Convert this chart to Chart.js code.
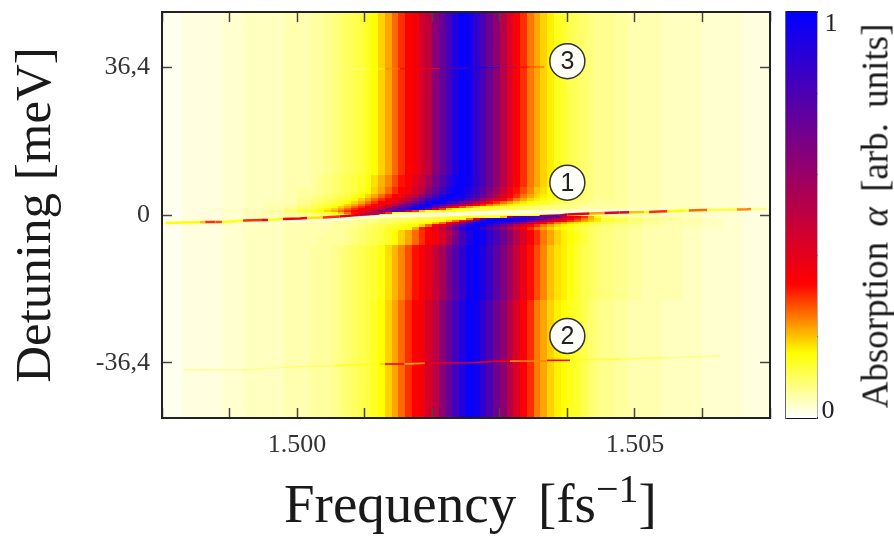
<!DOCTYPE html>
<html>
<head>
<meta charset="utf-8">
<script src="https://cdn.jsdelivr.net/npm/chart.js@4"></script>
<style>
  body { margin: 0; background: #fff; }
  #page { position: relative; width: 894px; height: 536px; overflow: hidden; }
  canvas { position: absolute; top: 0; }
  .title { position: absolute; font-family: "Liberation Serif", serif; color: #1a1a1a; white-space: nowrap; }
  #xTitle { left: 284px; top: 472px; font-size: 55px; word-spacing: 8px; }
  #xTitle sup { font-size: 40px; line-height: 0; vertical-align: 20px; }
  #barTitle { left: 875px; top: 216px; font-size: 37px; word-spacing: 6px; transform: translate(-50%, -50%) rotate(-90deg); }
</style>
</head>
<body>
<div id="page">
  <canvas id="map" width="894" height="536" style="left:0"></canvas>
  <canvas id="bar" width="124" height="536" style="left:770px"></canvas>
  <div class="title" id="xTitle">Frequency [fs<sup>&minus;1</sup>]</div>
  <div class="title" id="barTitle">Absorption <i>α</i> [arb. units]</div>
</div>
<script>
// Tick values
const xTickValues = [1.498, 1.499, 1.5, 1.501, 1.502, 1.503, 1.504, 1.505, 1.506, 1.507];
const xTickLabels = { '1.500': '1.500', '1.505': '1.505' };
const yTickValues = [36.4, 0, -36.4];
const yTickLabels = ['36,4', '0', '-36,4'];
const barTickValues = [0.2, 0.4, 0.6, 0.8];

// Colour scale of the absorption
const paletteStops = [0, 0.16, 0.33, 1];
const paletteColors = [[255, 255, 255], [255, 255, 0], [255, 0, 0], [0, 0, 255]];

// Cell edges of the map (not even: finer where the picture changes fast)
const frequencyEdges = [1.498, 1.4983, 1.4986, 1.4989, 1.4992, 1.4995, 1.4998, 1.5, 1.5002,
  1.5003, 1.5004, 1.5005, 1.5006, 1.5007, 1.5008, 1.5009, 1.501, 1.5011, 1.5012, 1.5013,
  1.5014, 1.5015, 1.5016, 1.5017, 1.5018, 1.5019, 1.502, 1.5021, 1.5022, 1.5023, 1.5024,
  1.5025, 1.5026, 1.5027, 1.5028, 1.5029, 1.503, 1.5031, 1.5032, 1.5033, 1.5034, 1.5035,
  1.5036, 1.5037, 1.5038, 1.5039, 1.504, 1.5041, 1.5042, 1.5043, 1.5044, 1.5045,
  1.5047, 1.5049, 1.5051, 1.5054, 1.5057, 1.506, 1.5063, 1.5066, 1.507];
const detuningEdges = [50, 9.85, 6.9, 5.17, 4.19, 3.45, 2.71, 2.22, 1.72, 1.23, 0.74, 0.25, -0.25, -0.74, -1.23, -1.72, -2.22, -2.96, -3.69, -4.93, -7.39, -20.9, -50];

// Absorption in % for each row (top to bottom) and each frequency cell
const absorption = [
  [1,2,2,3,4,4,5,5, 6,6,7,8,9,10,11,12,14,16,19,22,26,30,33,36,44,50,64,73,83,92,99,96,87,80,71,63,52,42,34,30,25,22,19,17,14,13,11,10,9,8,7, 7,6,5,5,4,4,3,3,2],
  [1,2,2,3,4,4,5,5, 6,7,8,9,10,11,12,13,15,18,21,24,28,32,35,40,47,57,69,78,88,96,99,96,87,80,71,63,52,42,34,30,25,22,19,17,14,13,11,10,9,8,7, 7,6,5,5,4,4,3,3,2],
  [1,2,2,3,4,4,5,6, 6,7,8,9,10,11,12,14,16,19,22,26,30,33,36,44,50,64,73,83,92,99,97,92,84,76,67,58,47,38,32,28,24,20,18,16,14,13,11,10,9,8,7, 7,6,5,5,4,4,3,3,2],
  [1,2,2,3,4,4,5,6, 7,8,9,10,11,12,14,16,19,22,26,30,33,36,44,50,64,73,83,92,99,97,96,87,80,71,63,52,42,34,30,25,22,19,17,16,14,13,11,10,9,8,7, 7,6,5,5,4,4,3,3,2],
  [1,2,2,3,4,4,5,7, 8,9,10,11,12,14,16,19,22,26,30,33,36,44,50,64,73,83,92,99,97,96,87,80,71,63,52,42,34,30,25,22,19,17,16,14,13,12,11,9,8,7,6, 7,6,5,5,4,4,3,3,2],
  [1,2,2,3,4,5,5,7, 9,10,11,12,14,16,19,22,26,30,33,36,44,50,64,73,83,92,99,96,87,80,71,63,52,42,34,30,25,22,19,17,16,14,13,12,11,10,9,8,7,7,6, 6,6,5,5,4,4,3,3,2],
  [1,2,2,3,4,5,6,8, 10,11,12,14,16,19,22,26,30,33,36,44,50,64,73,83,92,99,87,80,71,63,52,42,34,30,25,22,19,17,16,14,13,12,11,10,9,9,8,7,7,6,6, 6,6,5,5,4,4,3,3,2],
  [1,2,2,3,4,5,6,9, 11,12,14,16,19,22,26,30,33,36,44,50,64,73,83,92,99,90,75,60,45,34,28,22,18,16,15,14,13,12,11,10,9,9,8,8,8,7,7,7,6,6,6, 6,6,5,5,4,4,3,3,2],
  [1,2,3,3,4,5,7,10, 12,14,16,19,22,26,30,33,36,44,50,64,73,83,92,97,90,70,45,30,20,16,14,13,12,12,12,12,11,11,11,10,10,9,9,8,8,8,7,7,7,6,6, 5,5,5,4,4,4,3,3,2],
  [1,2,3,4,5,6,9,12, 14,16,19,22,26,30,33,36,44,50,64,73,83,70,45,30,20,16,14,14,14,14,14,14,14,14,14,14,14,14,14,13,13,12,12,11,10,10,9,9,8,8,7, 6,6,5,5,4,4,3,3,2],
  [1,2,2,3,4,5,7,9, 11,12,14,16,20,26,32,36,48,62,52,30,15,13,12,12,11,11,11,11,12,13,13,13,13,13,13,13,13,13,13,13,13,13,12,12,11,11,10,10,9,8,7, 6,6,5,5,4,4,3,3,2],
  [1,2,2,3,4,5,6,7, 8,9,9,10,11,13,16,20,24,20,14,12,11,11,10,10,10,10,11,12,13,13,13,13,13,13,13,13,13,13,13,13,13,13,12,12,11,11,10,10,9,8,7, 6,6,5,5,4,4,3,3,2],
  [1,2,2,3,4,4,5,6, 7,7,7,8,8,8,8,8,8,8,9,9,10,10,11,11,12,12,13,13,13,14,14,14,14,14,14,14,20,60,80,85,85,85,80,75,70,50,38,36,30,22,16, 9,7,6,5,5,4,3,3,2],
  [1,2,2,3,4,4,5,5, 6,6,6,6,7,7,7,7,8,8,9,9,10,10,11,11,12,12,13,13,14,14,14,25,45,75,90,97,99,97,95,92,85,78,70,60,50,40,34,30,25,21,18, 13,11,9,7,6,5,4,3,2],
  [1,2,2,3,4,4,5,5, 5,5,5,6,6,6,7,7,8,8,9,9,10,10,11,12,13,14,15,16,19,26,34,50,75,92,99,99,99,96,90,85,75,68,60,50,42,35,30,26,22,19,17, 13,11,9,7,6,5,4,3,2],
  [1,2,2,3,4,4,5,5, 5,5,5,5,6,6,6,7,7,8,9,10,11,12,13,14,15,16,20,26,33,44,64,85,97,99,97,90,85,80,71,63,52,42,35,30,25,22,19,17,16,14,12, 10,9,8,6,5,5,4,3,2],
  [1,2,2,3,4,4,5,5, 5,5,5,6,6,6,7,8,9,10,11,12,13,14,15,16,19,26,33,40,50,64,80,92,99,96,87,80,71,63,52,42,34,30,25,22,19,17,16,14,12,11,10, 9,8,7,6,5,5,4,3,2],
  [1,2,2,3,4,4,5,5, 5,5,5,6,6,7,8,9,10,11,12,13,14,15,16,22,31,36,42,50,64,78,92,99,96,87,80,71,63,52,42,34,30,25,22,19,17,16,14,12,11,10,9, 8,7,6,5,5,4,4,3,2],
  [1,2,2,3,4,4,5,5, 5,5,6,6,6,7,8,9,10,11,12,14,16,19,22,26,30,33,36,44,50,64,83,92,99,96,87,80,71,63,52,42,34,30,25,22,19,17,16,14,12,10,9, 8,7,6,5,5,4,3,3,2],
  [1,2,2,3,4,4,5,5, 5,6,6,6,6,7,8,9,10,11,12,14,16,19,22,26,30,33,36,44,55,70,83,92,99,96,87,80,71,63,52,42,34,30,25,22,19,17,16,14,12,10,9, 8,7,6,5,5,4,3,3,2],
  [1,2,2,3,4,4,5,5, 6,6,6,7,8,9,10,11,12,13,15,18,21,24,28,32,35,40,47,57,69,78,88,96,98,92,84,76,67,58,47,38,32,28,24,20,18,17,15,13,11,10,9, 8,7,6,5,5,4,3,3,2],
  [1,2,2,3,4,4,5,5, 6,6,6,7,8,9,10,11,12,14,16,19,22,26,30,33,36,44,50,64,73,83,92,99,96,87,80,71,63,52,42,34,30,25,22,19,17,16,14,13,11,9,8, 7,6,5,5,4,4,3,3,2],
];

// Pale core of the band through the anticrossing
const paleFrequency = [1.49901, 1.5, 1.50063, 1.50108, 1.50152, 1.50196, 1.50255, 1.503, 1.50359, 1.50447, 1.50506, 1.50565];
const paleDetuning = [-2.22, -1.6, -0.99, -0.44, -0.2, 0, 0.37, 0.54, 0.74, 0.99, 1.23, 1.35];
const paleWidth = [2, 3, 3, 3.5, 4, 4, 4.5, 4.5, 4, 3, 2, 1.5];

// Sharp line at zero detuning, left and right of the anticrossing
const line1LeftFrequency = [1.49805, 1.49834, 1.49856, 1.49864, 1.49879, 1.49889, 1.49913, 1.4992, 1.49948, 1.49957, 1.4997, 1.49979, 1.50004, 1.50015, 1.50038, 1.50063, 1.50093, 1.50122];
const line1LeftDetuning = [-1.97, -1.85, -1.8, -1.72, -1.72, -1.72, -1.48, -1.35, -1.23, -1.23, -1.11, -0.99, -0.86, -0.74, -0.62, -0.35, 0.05, 0.37];
const line1LeftAlpha = [16, 16, 20, 30, 28, 15, 14, 30, 33, 15, 15, 36, 36, 18, 30, 40, 50, 70];

const line1RightFrequency = [1.50359, 1.50389, 1.504, 1.50433, 1.50455, 1.50477, 1.50492, 1.50514, 1.50521, 1.50536, 1.50548, 1.50573, 1.5058, 1.506, 1.50607, 1.50647, 1.50651, 1.50666, 1.50672, 1.50695];
const line1RightDetuning = [-0.3, -0.12, 0.1, 0.37, 0.49, 0.62, 0.67, 0.74, 0.74, 0.86, 0.91, 1.11, 1.11, 1.23, 1.23, 1.35, 1.35, 1.4, 1.48, 1.48];
const line1RightAlpha = [70, 55, 40, 22, 42, 40, 20, 16, 30, 30, 16, 14, 26, 26, 12, 12, 24, 24, 8, 5];

// Weak line below
const line2Frequency = [1.49831, 1.49915, 1.49982, 1.50056, 1.50122, 1.5013, 1.50152, 1.50159, 1.50174, 1.50189, 1.50255, 1.503, 1.50315, 1.50366, 1.5037, 1.50397, 1.50404, 1.50433, 1.50478, 1.50552, 1.50626];
const line2Detuning = [-38.2, -38.2, -37.5, -37.1, -36.7, -36.7, -36.7, -36.7, -36.6, -36.5, -36.4, -36, -36, -36, -35.8, -35.8, -35.8, -35.6, -35.5, -35.1, -34.7];
const line2Alpha = [6, 7, 9, 14, 20, 38, 36, 20, 22, 40, 40, 34, 24, 24, 34, 34, 14, 12, 10, 7, 5];

// Faint line above
const line3Frequency = [1.50049, 1.50108, 1.5013, 1.50152, 1.50174, 1.50211, 1.50255, 1.503, 1.50326, 1.50344, 1.50366, 1.50388];
const line3Detuning = [35.7, 35.9, 36, 36, 36, 36.1, 36.2, 36.3, 36.4, 36.45, 36.45, 36.45];
const line3Alpha = [8, 15, 24, 33, 36, 73, 92, 55, 36, 28, 18, 14];

// Numbered markers
const markerFrequency = [1.504, 1.504, 1.504];
const markerDetuning = [7.96, -29.8, 37.9];
const markerLabels = ['1', '2', '3'];

function paletteColor(a) {
  let i = 0;
  while (i < paletteStops.length - 2 && a > paletteStops[i + 1]) i++;
  const t = Math.min(1, Math.max(0, (a - paletteStops[i]) / (paletteStops[i + 1] - paletteStops[i])));
  const c = paletteColors[i].map((v, k) => Math.round(v + (paletteColors[i + 1][k] - v) * t));
  return `rgb(${c[0]},${c[1]},${c[2]})`;
}

function points(xs, ys) {
  return xs.map((x, i) => ({ x: x, y: ys[i] }));
}

// Colored line dataset, one colour per segment
function colorLine(xs, ys, alphas, width, order) {
  return {
    data: points(xs, ys),
    showLine: true,
    pointRadius: 0,
    borderWidth: width,
    borderColor: paletteColor(alphas[0] / 100),
    order: order,
    segment: { borderColor: ctx => paletteColor(alphas[ctx.p0DataIndex] / 100) },
  };
}

// Draws the cells behind the axes
const heatmapPlugin = {
  id: 'heatmap',
  beforeDraw(chart) {
    const { ctx, scales: { x, y } } = chart;
    absorption.forEach((row, r) => {
      const top = Math.round(y.getPixelForValue(detuningEdges[r]));
      const bottom = Math.round(y.getPixelForValue(detuningEdges[r + 1]));
      row.forEach((value, c) => {
        const left = Math.round(x.getPixelForValue(frequencyEdges[c]));
        const right = Math.round(x.getPixelForValue(frequencyEdges[c + 1]));
        ctx.fillStyle = paletteColor(value / 100);
        ctx.fillRect(left, top, right - left, bottom - top);
      });
    });
  },
};

// Numbers inside the circles
const markerTextPlugin = {
  id: 'markerText',
  afterDatasetsDraw(chart) {
    const { ctx, scales: { x, y } } = chart;
    ctx.save();
    ctx.fillStyle = '#222';
    ctx.font = '25px "Liberation Sans"';
    ctx.textAlign = 'center';
    ctx.textBaseline = 'middle';
    markerLabels.forEach((label, i) => {
      ctx.fillText(label, x.getPixelForValue(markerFrequency[i]), y.getPixelForValue(markerDetuning[i]) + 1);
    });
    ctx.restore();
  },
};

const tickFont = { family: 'Liberation Serif', size: 26 };
const frameBorder = { color: '#222', width: 2 };
const sideGrid = { drawOnChartArea: false, tickLength: -10, tickColor: '#444', tickWidth: 1.5 };

function setYTicks(scale) {
  scale.ticks = yTickValues.map(v => ({ value: v }));
}
function setXTicks(scale) {
  scale.ticks = xTickValues.map(v => ({ value: v }));
}
// The frame is placed by hand, so the labels must not push it
function fixSize(width, height) {
  return s => {
    if (width !== null) s.width = width;
    if (height !== null) s.height = height;
    s.paddingTop = s.paddingBottom = s.paddingLeft = s.paddingRight = 0;
  };
}

new Chart(document.getElementById('map'), {
  type: 'scatter',
  data: {
    datasets: [
      {
        data: points(markerFrequency, markerDetuning),
        pointRadius: 17.5,
        pointBackgroundColor: '#fffffa',
        pointBorderColor: '#333',
        pointBorderWidth: 1.5,
        order: 0,
      },
      colorLine(line1LeftFrequency, line1LeftDetuning, line1LeftAlpha, 2.5, 1),
      colorLine(line1RightFrequency, line1RightDetuning, line1RightAlpha, 2.5, 2),
      colorLine(line2Frequency, line2Detuning, line2Alpha, 1.6, 3),
      colorLine(line3Frequency, line3Detuning, line3Alpha, 1, 4),
      {
        data: points(paleFrequency, paleDetuning),
        showLine: true,
        pointRadius: 0,
        borderWidth: 3,
        borderColor: '#ffffdc',
        order: 5,
        segment: { borderWidth: ctx => paleWidth[ctx.p0DataIndex] },
      },
    ],
  },
  options: {
    responsive: false,
    animation: false,
    layout: { autoPadding: false, padding: { top: 12, right: 124 } },
    plugins: { legend: { display: false }, tooltip: { enabled: false } },
    scales: {
      x: {
        type: 'linear',
        position: 'bottom',
        min: 1.498,
        max: 1.507,
        afterBuildTicks: setXTicks,
        afterFit: fixSize(null, 118),
        border: frameBorder,
        grid: sideGrid,
        ticks: {
          autoSkip: false,
          maxRotation: 0,
          padding: 22,
          color: '#333',
          font: tickFont,
          callback: v => xTickLabels[v.toFixed(3)] || '',
        },
      },
      x2: {
        type: 'linear',
        position: 'top',
        min: 1.498,
        max: 1.507,
        afterBuildTicks: setXTicks,
        afterFit: fixSize(null, 0),
        border: frameBorder,
        grid: sideGrid,
        ticks: { display: false },
      },
      y: {
        type: 'linear',
        position: 'left',
        min: -50,
        max: 50,
        afterBuildTicks: setYTicks,
        afterFit: fixSize(162, null),
        border: frameBorder,
        grid: sideGrid,
        title: {
          display: true,
          text: 'Detuning [meV]',
          color: '#1a1a1a',
          font: { family: 'Liberation Serif', size: 51 },
          padding: { top: 6, bottom: 0 },
        },
        ticks: {
          autoSkip: false,
          padding: 22,
          color: '#333',
          font: tickFont,
          callback: v => yTickLabels[yTickValues.indexOf(v)],
        },
      },
      y2: {
        type: 'linear',
        position: 'right',
        min: -50,
        max: 50,
        afterBuildTicks: setYTicks,
        afterFit: fixSize(0, null),
        border: frameBorder,
        grid: sideGrid,
        ticks: { display: false },
      },
    },
  },
  plugins: [heatmapPlugin, markerTextPlugin],
});

// Colour bar: one floating bar filled with the palette
const barLabels = [{ text: '0', value: 0, dx: 11, dy: -7 }, { text: '1', value: 1, dx: 14, dy: 12 }];
const barTextPlugin = {
  id: 'barText',
  afterDraw(chart) {
    const { ctx, chartArea, scales: { y } } = chart;
    ctx.save();
    ctx.fillStyle = '#222';
    ctx.font = '26px "Liberation Serif"';
    ctx.textAlign = 'center';
    ctx.textBaseline = 'middle';
    barLabels.forEach(l => ctx.fillText(l.text, chartArea.right + l.dx, y.getPixelForValue(l.value) + l.dy));
    ctx.restore();
  },
};

const barGrid = { drawOnChartArea: false, tickLength: -8, tickColor: '#333', tickWidth: 1.5 };
function setBarTicks(scale) {
  scale.ticks = barTickValues.map(v => ({ value: v }));
}

new Chart(document.getElementById('bar'), {
  type: 'bar',
  data: {
    labels: ['α'],
    datasets: [{
      data: [[0, 1]],
      barPercentage: 1,
      categoryPercentage: 1,
      backgroundColor: ctx => {
        const { chart } = ctx;
        if (!chart.chartArea) return '#fff';
        const y = chart.scales.y;
        const g = chart.ctx.createLinearGradient(0, y.getPixelForValue(0), 0, y.getPixelForValue(1));
        paletteStops.forEach(s => g.addColorStop(s, paletteColor(s)));
        return g;
      },
    }],
  },
  options: {
    responsive: false,
    animation: false,
    layout: { autoPadding: false, padding: { top: 12, left: 16, right: 77 } },
    plugins: { legend: { display: false }, tooltip: { enabled: false } },
    scales: {
      x: {
        position: 'bottom',
        afterFit: fixSize(null, 118),
        border: { color: '#111', width: 2 },
        grid: { display: false },
        ticks: { display: false },
      },
      x2: {
        position: 'top',
        afterFit: fixSize(null, 0),
        border: { color: '#111', width: 2 },
        grid: { display: false },
        ticks: { display: false },
      },
      y: {
        position: 'left',
        min: 0,
        max: 1,
        afterBuildTicks: setBarTicks,
        afterFit: fixSize(0, null),
        border: { color: '#666', width: 1.5 },
        grid: barGrid,
        ticks: { display: false },
      },
      y2: {
        position: 'right',
        min: 0,
        max: 1,
        afterBuildTicks: setBarTicks,
        afterFit: fixSize(0, null),
        border: { color: '#666', width: 1.5 },
        grid: barGrid,
        ticks: { display: false },
      },
    },
  },
  plugins: [barTextPlugin],
});
</script>
</body>
</html>
